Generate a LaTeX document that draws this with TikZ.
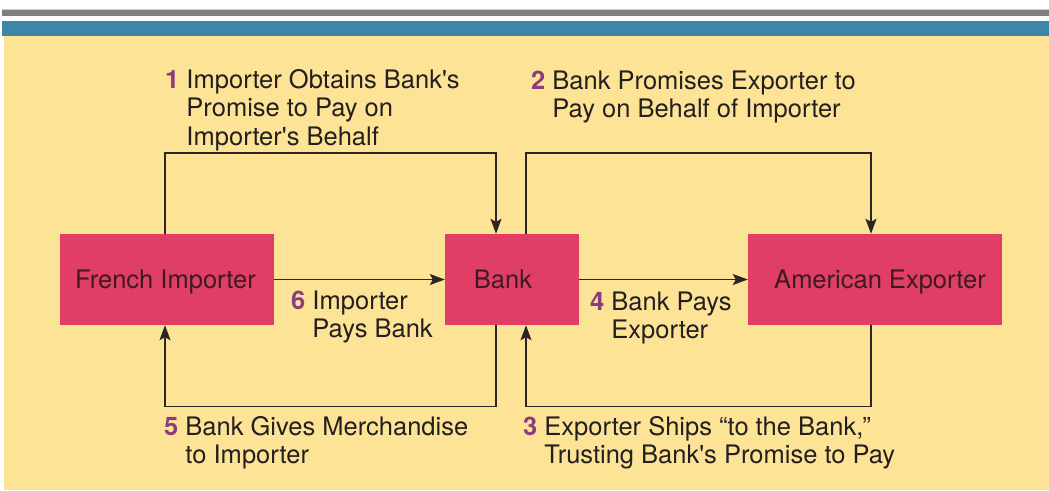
\documentclass[tikz,border=0pt]{standalone}
\usepackage{fontspec}
\setmainfont{TeX Gyre Heros}
\usetikzlibrary{arrows.meta}
\definecolor{bgyellow}{HTML}{FDE396}
\definecolor{barblue}{HTML}{3D86A7}
\definecolor{bargray}{HTML}{7F7F7F}
\definecolor{barlight}{HTML}{CFCFCF}
\definecolor{boxred}{HTML}{E13E66}
\definecolor{boxtext}{HTML}{3D1A22}
\definecolor{labtext}{HTML}{231F20}
\definecolor{numcol}{HTML}{8A3C7C}
\definecolor{linecol}{HTML}{2A2622}
\newcommand{\stepnum}[1]{\textcolor{numcol}{\bfseries #1}}
\begin{document}
\begin{tikzpicture}[x=1pt,y=-1pt,
  box/.style={fill=boxred, draw=none, text=boxtext, minimum width=#1, minimum height=91pt, inner sep=0pt, text height=18.5pt, text depth=0pt, font=\fontsize{25.5}{28}\selectfont},
  lab/.style={anchor=base west, inner sep=0pt, text=labtext, font=\fontsize{25.5}{28.5}\selectfont},
  conn/.style={draw=linecol, line width=1.5pt},
  arr/.style={conn, -{Stealth[length=15pt,width=11pt,inset=3pt]}}]
\useasboundingbox (0,0) rectangle (1049,490);
\fill[white] (0,0) rectangle (1049,490);
\fill[barlight] (2,9) rectangle (1049,10.5);
\fill[bargray] (2,10) rectangle (1049,16);
\fill[barblue] (2,21) rectangle (1049,36);
\fill[bgyellow] (4,36) rectangle (1049,490);

\node[box=214pt] (fi) at (167,279.5) {French Importer\hspace*{3pt}};
\node[box=134pt] (bank) at (512,279.5) {Bank\hspace*{18pt}};
\node[box=254pt] (ae) at (875,279.5) {\hspace*{10pt}American Exporter};

\draw[arr] ([xshift=-2pt]fi.north) -- ++(0,-81) -| ([xshift=-16pt]bank.north);
\draw[arr] ([xshift=14pt]bank.north) -- ++(0,-81) -| ([xshift=-4pt]ae.north);
\draw[arr] (bank.east) -- (ae.west);
\draw[arr] (fi.east) -- (bank.west);
\draw[arr] ([xshift=-4pt]ae.south) -- ++(0,81.5) -| ([xshift=14pt]bank.south);
\draw[arr] ([xshift=-16pt]bank.south) -- ++(0,81.5) -| ([xshift=-2pt]fi.south);

\node[lab] (l1) at (165,88) {\begin{tabular}[t]{@{}r@{\ }l@{}}\stepnum{1} & Importer Obtains Bank\textquotesingle s\\ & Promise to Pay on\\ & Importer\textquotesingle s Behalf\end{tabular}};
\node[lab] (l2) at (531,89) {\begin{tabular}[t]{@{}r@{\ }l@{}}\stepnum{2} & Bank Promises Exporter to\\ & Pay on Behalf of Importer\end{tabular}};
\node[lab] (l6) at (291,309) {\begin{tabular}[t]{@{}r@{\ }l@{}}\stepnum{6} & Importer\\ & Pays Bank\end{tabular}};
\node[lab] (l4) at (590,310) {\begin{tabular}[t]{@{}r@{\ }l@{}}\stepnum{4} & Bank Pays\\ & Exporter\end{tabular}};
\node[lab] (l5) at (164,435) {\begin{tabular}[t]{@{}r@{\ }l@{}}\stepnum{5} & Bank Gives Merchandise\\ & to Importer\end{tabular}};
\node[lab] (l3) at (523,435) {\begin{tabular}[t]{@{}r@{\ }l@{}}\stepnum{3} & Exporter Ships ``to the Bank,''\\ & Trusting Bank\textquotesingle s Promise to Pay\end{tabular}};
\end{tikzpicture}
\end{document}
